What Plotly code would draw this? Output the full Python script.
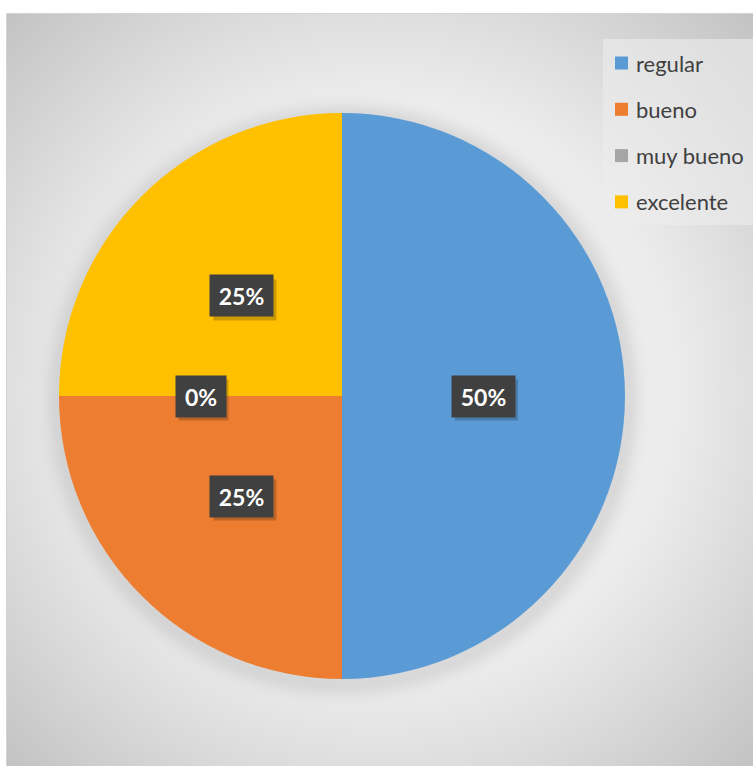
import base64
import struct
import zlib

import numpy as np
import plotly.graph_objects as go

# ---------------- data ----------------
categories = ["regular", "bueno", "muy bueno", "excelente"]
values = [50, 25, 0, 25]
colors = ["#5B9BD5", "#ED7D31", "#A5A5A5", "#FFC000"]

# ---------------- geometry (pixels) ----------------
FIG_W, FIG_H = 753, 766
AREA_X0, AREA_Y0 = 7, 14          # chart-area top-left (px, y down)
PIE_CX, PIE_CY, PIE_R = 342, 396, 283


def px_x(x):
    return x / FIG_W


def px_y(y):
    return 1 - y / FIG_H


# ---------------- background gradient image ----------------
def make_png_gray(arr):
    h, w = arr.shape
    raw = b"".join(b"\x00" + arr[i].tobytes() for i in range(h))

    def chunk(t, d):
        c = struct.pack(">I", len(d)) + t + d
        return c + struct.pack(">I", zlib.crc32(t + d) & 0xFFFFFFFF)

    return (b"\x89PNG\r\n\x1a\n"
            + chunk(b"IHDR", struct.pack(">IIBBBBB", w, h, 8, 0, 0, 0, 0))
            + chunk(b"IDAT", zlib.compress(raw, 9))
            + chunk(b"IEND", b""))


AW, AH = FIG_W - AREA_X0, FIG_H - AREA_Y0
jj, ii = np.meshgrid(np.arange(AW) + AREA_X0 + 0.5, np.arange(AH) + AREA_Y0 + 0.5)
d = np.hypot(jj - 380, ii - 390)
g = 237 - np.clip((d - 290) / (530 - 290), 0, 1) ** 1.05 * 42
# soft outer shadow of the pie
sd = np.hypot(jj - (PIE_CX + 1), ii - (PIE_CY + 4)) - (PIE_R + 1)
shade = np.where(sd > 0, 20 * np.exp(-(sd / 13.0) ** 2), 20)
g = np.clip(g - shade, 0, 255).astype(np.uint8)
bg_uri = "data:image/png;base64," + base64.b64encode(make_png_gray(g)).decode()

# ---------------- figure ----------------
fig = go.Figure()
fig.add_trace(go.Pie(
    labels=categories,
    values=values,
    sort=False,
    direction="clockwise",
    rotation=0,
    marker=dict(colors=colors, line=dict(width=0)),
    textinfo="none",
    hoverinfo="label+percent",
    showlegend=False,
    domain=dict(x=[px_x(PIE_CX - PIE_R), px_x(PIE_CX + PIE_R)],
                y=[px_y(PIE_CY + PIE_R), px_y(PIE_CY - PIE_R)]),
))

annotations = []
shapes = []

# data labels positioned at half radius on each slice's mid angle
total = sum(values)
cum = 0.0
for cat, v in zip(categories, values):
    frac = v / total
    mid = cum + frac / 2
    cum += frac
    theta = np.deg2rad(90 - 360 * mid)
    lx = PIE_CX + 0.5 * PIE_R * np.cos(theta)
    ly = PIE_CY - 0.5 * PIE_R * np.sin(theta)
    txt = f"{round(100 * frac)}%"
    inner_w = 8 + 13 * len(txt)
    bw, bh = inner_w + 16, 41
    # drop shadow of the label box
    shapes.append(dict(type="rect", xref="paper", yref="paper",
                       x0=px_x(lx - bw / 2 + 3), x1=px_x(lx + bw / 2 + 3),
                       y0=px_y(ly + bh / 2 + 4), y1=px_y(ly - bh / 2 + 4),
                       line=dict(width=0), fillcolor="rgba(0,0,0,0.2)", layer="above"))
    annotations.append(dict(x=px_x(lx), y=px_y(ly), xref="paper", yref="paper",
                            xanchor="center", yanchor="middle", showarrow=False,
                            text=f"<b>{txt}</b>", width=inner_w, height=bh - 16,
                            borderpad=8,
                            font=dict(family="Lato", size=23, color="white"),
                            bgcolor="#404040"))

# chart-area border
shapes.append(dict(type="rect", xref="paper", yref="paper",
                   x0=px_x(AREA_X0 - 0.5), x1=px_x(FIG_W + 5),
                   y0=px_y(FIG_H + 5), y1=px_y(AREA_Y0 - 0.5),
                   line=dict(color="#D4D4D4", width=1), fillcolor="rgba(0,0,0,0)",
                   layer="above"))

# legend (manual, to match the original spacing)
LEG_X0, LEG_Y0, LEG_Y1 = 603, 39, 225
shapes.append(dict(type="rect", xref="paper", yref="paper",
                   x0=px_x(LEG_X0), x1=px_x(FIG_W + 5),
                   y0=px_y(LEG_Y1), y1=px_y(LEG_Y0),
                   line=dict(width=0), fillcolor="rgba(236,236,236,0.6)",
                   layer="above"))
for k, (cat, col) in enumerate(zip(categories, colors)):
    cy = 63 + 46.3 * k
    shapes.append(dict(type="rect", xref="paper", yref="paper",
                       x0=px_x(615), x1=px_x(628),
                       y0=px_y(cy + 6.5), y1=px_y(cy - 6.5),
                       line=dict(width=0), fillcolor=col, layer="above"))
    annotations.append(dict(x=px_x(634), y=px_y(cy), xref="paper", yref="paper",
                            xanchor="left", yanchor="middle", showarrow=False,
                            text=cat, font=dict(family="Lato", size=22, color="#404040")))

fig.update_layout(
    width=FIG_W, height=FIG_H,
    margin=dict(l=0, r=0, t=0, b=0),
    paper_bgcolor="white",
    images=[dict(source=bg_uri, xref="paper", yref="paper",
                 x=px_x(AREA_X0), y=px_y(AREA_Y0),
                 sizex=AW / FIG_W, sizey=AH / FIG_H,
                 xanchor="left", yanchor="top", sizing="stretch", layer="below")],
    shapes=shapes,
    annotations=annotations,
)

fig.write_html("out.html",
               config={"displayModeBar": False},
               post_script="document.body.style.margin='0';"
                           "document.body.style.overflow='hidden';")
